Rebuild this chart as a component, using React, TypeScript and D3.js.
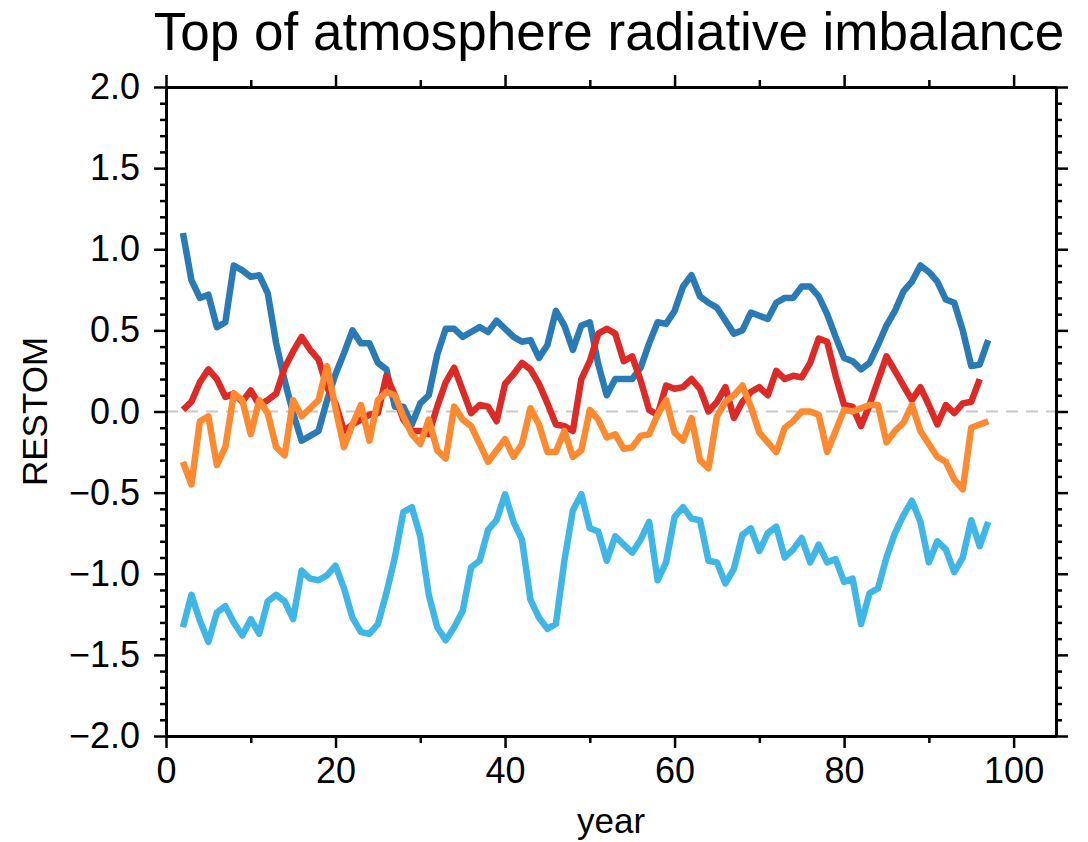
import { useEffect, useRef } from 'react';
import * as d3 from 'd3';

// values, one per model year
const blueYears = d3.range(2, 98);
const blueValues = [
  1.10, 0.81, 0.70, 0.72, 0.52, 0.55, 0.90, 0.87, 0.83, 0.84,
  0.73, 0.42, 0.19, -0.01, -0.18, -0.15, -0.12, 0.07, 0.23, 0.36,
  0.50, 0.42, 0.42, 0.30, 0.26, 0.03, 0.03, -0.08, 0.05, 0.10,
  0.35, 0.51, 0.51, 0.46, 0.49, 0.52, 0.49, 0.56, 0.51, 0.46,
  0.43, 0.44, 0.33, 0.41, 0.62, 0.53, 0.38, 0.53, 0.55, 0.29,
  0.10, 0.20, 0.20, 0.20, 0.27, 0.42, 0.55, 0.54, 0.62, 0.77,
  0.84, 0.71, 0.67, 0.64, 0.56, 0.48, 0.50, 0.61, 0.59, 0.57,
  0.67, 0.70, 0.70, 0.77, 0.77, 0.71, 0.60, 0.46, 0.33, 0.31,
  0.26, 0.30, 0.41, 0.53, 0.62, 0.74, 0.80, 0.90, 0.86, 0.80,
  0.69, 0.67, 0.50, 0.28, 0.29, 0.44,
];

const redYears = d3.range(2, 97);
const redValues = [
  0.01, 0.06, 0.18, 0.26, 0.20, 0.09, 0.11, 0.06, 0.13, 0.04,
  0.07, 0.11, 0.27, 0.37, 0.46, 0.38, 0.32, 0.15, 0.05, -0.12,
  -0.08, -0.05, -0.02, -0.01, 0.22, 0.10, -0.05, -0.12, -0.12, -0.14,
  0.03, 0.18, 0.27, 0.13, -0.01, 0.04, 0.03, -0.06, 0.17, 0.23,
  0.30, 0.26, 0.17, 0.05, -0.08, -0.09, -0.12, 0.20, 0.31, 0.48,
  0.51, 0.48, 0.31, 0.34, 0.19, 0.01, -0.02, 0.16, 0.14, 0.15,
  0.20, 0.14, 0.00, 0.06, 0.15, -0.04, 0.06, 0.12, 0.15, 0.10,
  0.25, 0.20, 0.22, 0.21, 0.30, 0.45, 0.43, 0.22, 0.04, 0.03,
  -0.09, 0.04, 0.19, 0.34, 0.25, 0.16, 0.07, 0.15, 0.04, -0.08,
  0.04, -0.01, 0.05, 0.06, 0.20,
];

const orangeYears = d3.range(2, 98);
const orangeValues = [
  -0.31, -0.45, -0.06, -0.03, -0.33, -0.22, 0.11, 0.07, -0.14, 0.07,
  -0.01, -0.22, -0.27, 0.07, -0.03, 0.02, 0.07, 0.28, 0.02, -0.22,
  -0.08, 0.04, -0.18, 0.07, 0.12, 0.10, -0.03, -0.14, -0.20, -0.05,
  -0.24, -0.29, 0.03, -0.05, -0.09, -0.20, -0.31, -0.24, -0.17, -0.28,
  -0.20, 0.02, -0.08, -0.25, -0.25, -0.12, -0.28, -0.24, 0.01, -0.05,
  -0.16, -0.14, -0.23, -0.22, -0.15, -0.14, -0.02, 0.07, -0.13, -0.18,
  -0.04, -0.30, -0.35, -0.03, 0.06, 0.10, 0.16, 0.03, -0.13, -0.19,
  -0.25, -0.10, -0.06, 0.00, 0.00, -0.02, -0.25, -0.12, 0.01, 0.00,
  0.02, 0.04, 0.04, -0.19, -0.12, -0.07, 0.04, -0.12, -0.20, -0.28,
  -0.31, -0.42, -0.48, -0.10, -0.08, -0.06,
];

const cyanYears = d3.range(2, 98);
const cyanValues = [
  -1.33, -1.13, -1.29, -1.42, -1.24, -1.20, -1.30, -1.38, -1.28, -1.37,
  -1.17, -1.13, -1.17, -1.28, -0.98, -1.03, -1.04, -1.01, -0.95, -1.09,
  -1.27, -1.36, -1.37, -1.31, -1.12, -0.90, -0.62, -0.59, -0.77, -1.13,
  -1.33, -1.41, -1.33, -1.23, -0.96, -0.92, -0.73, -0.67, -0.51, -0.68,
  -0.79, -1.16, -1.27, -1.34, -1.31, -0.92, -0.61, -0.51, -0.72, -0.74,
  -0.92, -0.77, -0.82, -0.87, -0.79, -0.68, -1.04, -0.93, -0.65, -0.59,
  -0.66, -0.67, -0.92, -0.93, -1.06, -0.97, -0.76, -0.72, -0.86, -0.75,
  -0.71, -0.90, -0.85, -0.78, -0.93, -0.82, -0.93, -0.91, -1.05, -1.03,
  -1.31, -1.12, -1.09, -0.90, -0.75, -0.64, -0.55, -0.68, -0.93, -0.80,
  -0.85, -0.99, -0.90, -0.67, -0.83, -0.68,
];

const xMajor = [0, 20, 40, 60, 80, 100];
const xMinor = [10, 30, 50, 70, 90];
const yMajor = [-2, -1.5, -1, -0.5, 0, 0.5, 1, 1.5, 2];
const yMinor = d3.range(-20, 21).filter((i) => i % 5 !== 0).map((i) => i / 10);

const series = [
  { years: blueYears, values: blueValues, color: '#2a7ab6' },
  { years: redYears, values: redValues, color: '#dc2a26' },
  { years: orangeYears, values: orangeValues, color: '#fd8a30' },
  { years: cyanYears, values: cyanValues, color: '#3fb6e6' },
];

const FONT = "'Liberation Sans', Arial, Helvetica, sans-serif";

function RestomChart() {
  const svgRef = useRef(null);

  useEffect(() => {
    const margin = { top: 87, right: 32, bottom: 106, left: 166 },
      width = 1088 - margin.left - margin.right,
      height = 842 - margin.top - margin.bottom;

    const root = d3.select(svgRef.current);
    root.selectAll('*').remove();

    root
      .append('text')
      .attr('x', 609)
      .attr('y', 50)
      .attr('text-anchor', 'middle')
      .attr('font-family', FONT)
      .attr('font-size', 53)
      .text('Top of atmosphere radiative imbalance');

    const svg = root.append('g').attr('transform', `translate(${margin.left}, ${margin.top})`);

    const x = d3.scaleLinear().domain([0, 105]).range([0, width]);
    const y = d3.scaleLinear().domain([-2, 2]).range([height, 0]);

    // zero reference line
    svg
      .append('line')
      .attr('x1', 0)
      .attr('x2', width)
      .attr('y1', y(0))
      .attr('y2', y(0))
      .attr('stroke', '#c8c8c8')
      .attr('stroke-width', 2)
      .attr('stroke-dasharray', '12,8');

    const valueLine = d3
      .line()
      .x((d) => x(d[0]))
      .y((d) => y(d[1]));

    series.forEach((s) => {
      svg
        .append('path')
        .datum(s.years.map((yr, i) => [yr, s.values[i]]))
        .attr('fill', 'none')
        .attr('stroke', s.color)
        .attr('stroke-width', 6.5)
        .attr('stroke-linejoin', 'round')
        .attr('d', valueLine);
    });

    const styleAxis = (g, labels) => {
      g.select('.domain').attr('stroke', '#000').attr('stroke-width', 3);
      g.selectAll('.tick line').attr('stroke', '#000').attr('stroke-width', 2.5);
      g.selectAll('.tick text')
        .attr('font-family', FONT)
        .attr('font-size', 36)
        .attr('fill', '#000')
        .style('display', labels ? null : 'none');
    };

    const fmtY = d3.format('.1f');

    // minor ticks first, majors on top
    svg
      .append('g')
      .attr('transform', `translate(0, ${height})`)
      .call(d3.axisBottom(x).tickValues(xMinor).tickSize(7).tickSizeOuter(0).tickFormat(() => ''))
      .call((g) => styleAxis(g, false));
    svg
      .append('g')
      .attr('transform', `translate(0, ${height})`)
      .call(d3.axisBottom(x).tickValues(xMajor).tickSize(12).tickSizeOuter(0).tickPadding(9).tickFormat(d3.format('d')))
      .call((g) => styleAxis(g, true));

    svg
      .append('g')
      .call(d3.axisTop(x).tickValues(xMinor).tickSize(7).tickSizeOuter(0).tickFormat(() => ''))
      .call((g) => styleAxis(g, false));
    svg
      .append('g')
      .call(d3.axisTop(x).tickValues(xMajor).tickSize(12).tickSizeOuter(0).tickFormat(() => ''))
      .call((g) => styleAxis(g, false));

    svg
      .append('g')
      .call(d3.axisLeft(y).tickValues(yMinor).tickSize(6).tickSizeOuter(0).tickFormat(() => ''))
      .call((g) => styleAxis(g, false));
    svg
      .append('g')
      .call(d3.axisLeft(y).tickValues(yMajor).tickSize(12).tickSizeOuter(0).tickPadding(14).tickFormat(fmtY))
      .call((g) => styleAxis(g, true));

    svg
      .append('g')
      .attr('transform', `translate(${width}, 0)`)
      .call(d3.axisRight(y).tickValues(yMinor).tickSize(6).tickSizeOuter(0).tickFormat(() => ''))
      .call((g) => styleAxis(g, false));
    svg
      .append('g')
      .attr('transform', `translate(${width}, 0)`)
      .call(d3.axisRight(y).tickValues(yMajor).tickSize(12).tickSizeOuter(0).tickFormat(() => ''))
      .call((g) => styleAxis(g, false));

    // axis titles
    svg
      .append('text')
      .attr('x', x(52.5))
      .attr('y', height + 97)
      .attr('text-anchor', 'middle')
      .attr('font-family', FONT)
      .attr('font-size', 35)
      .text('year');

    svg
      .append('text')
      .attr('transform', `translate(${47 - margin.left}, ${y(0)}) rotate(-90)`)
      .attr('text-anchor', 'middle')
      .attr('font-family', FONT)
      .attr('font-size', 35)
      .text('RESTOM');
  }, []);

  return <svg ref={svgRef} width={1088} height={842} style={{ display: 'block' }} />;
}

export default function App() {
  return (
    <div style={{ position: 'absolute', left: 0, top: 0, background: '#fff' }}>
      <RestomChart />
    </div>
  );
}
